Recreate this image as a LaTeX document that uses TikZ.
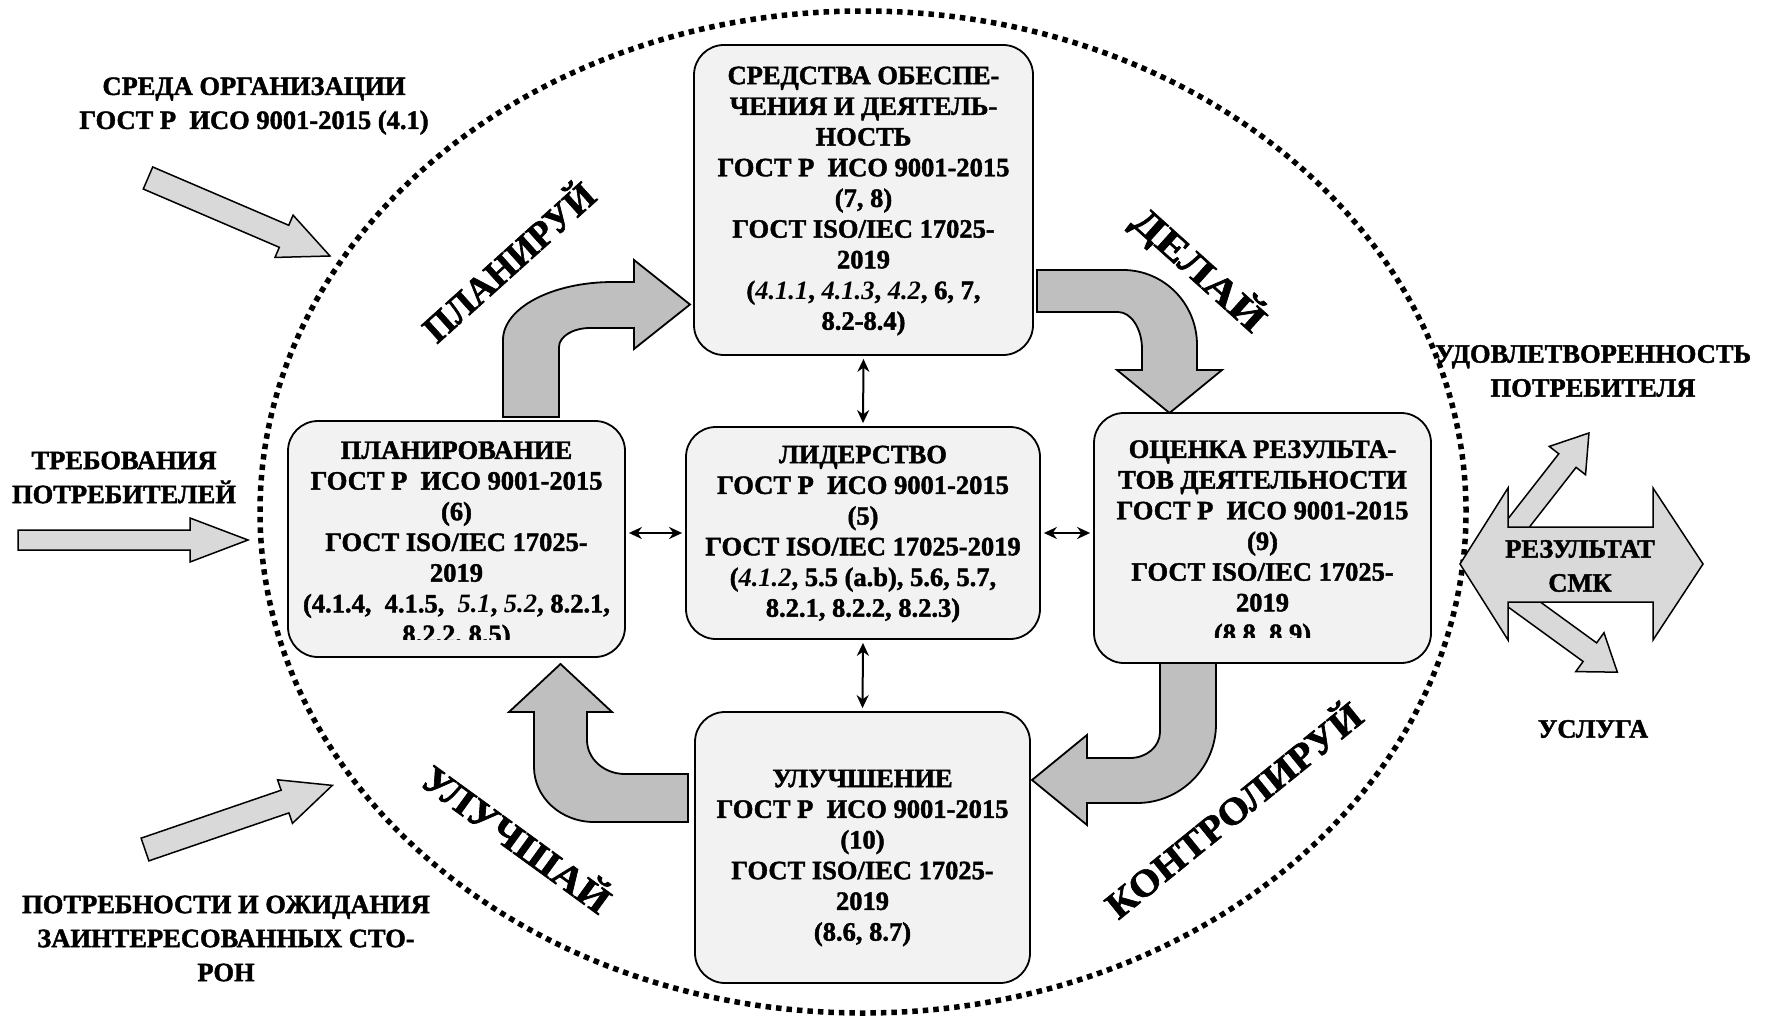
\documentclass[tikz,border=0pt]{standalone}
\usepackage{fontspec}
\setmainfont{Liberation Serif}[BoldFeatures={FakeBold=1.6}]
\usepackage{graphicx}
\usetikzlibrary{arrows.meta}
\definecolor{boxfill}{HTML}{F2F2F2}
\definecolor{bendfill}{HTML}{BFBFBF}
\definecolor{arrfill}{HTML}{D9D9D9}
\begin{document}
\begin{tikzpicture}[x=1pt,y=-1pt,
 box/.style={draw, line width=1.8pt, fill=boxfill, rounded corners=30pt, inner sep=0pt},
 boxtext/.style={font=\fontsize{26.5}{30.7}\selectfont\bfseries, align=center, inner sep=0pt},
 outtext/.style={font=\fontsize{26.5}{34}\selectfont\bfseries, align=center, inner sep=0pt},
 bentarrow/.style={draw, line width=1.8pt, fill=bendfill, line join=miter},
 flatarrow/.style={draw, line width=1.5pt, fill=arrfill, line join=miter},
 link/.style={line width=2pt, {Stealth[length=13pt,width=12pt]}-{Stealth[length=13pt,width=12pt]}, shorten >=3pt, shorten <=3pt},
 wordart/.style={font=\fontsize{38}{38}\selectfont\bfseries, inner sep=0pt, text=black},
]
\useasboundingbox (0,0) rectangle (1771,1016);
\fill[white] (0,0) rectangle (1771,1016);

% dotted ellipse
\draw[line width=5.5pt, dash pattern=on 5.5pt off 5pt] (863,512) ellipse [x radius=603pt, y radius=501pt];

% input arrows
\begin{scope}[shift={(148,178)}, rotate=-23.2]
\draw[flatarrow] (0,-12) -- (148,-12) -- (148,-23) -- (198,0) -- (148,23) -- (148,12) -- (0,12) -- cycle;
\end{scope}
\draw[flatarrow] (18,530) -- (190,530) -- (190,518) -- (248,540) -- (190,562) -- (190,550) -- (18,550) -- cycle;
\begin{scope}[shift={(145,849.5)}, rotate=18.9]
\draw[flatarrow] (0,-12) -- (148,-12) -- (148,-23) -- (198,0) -- (148,23) -- (148,12) -- (0,12) -- cycle;
\end{scope}

% result arrows (right)
\begin{scope}[shift={(1496.6,551.2)}, rotate=52]
\draw[flatarrow] (0,-11) -- (115,-11) -- (115,-23) -- (150,0) -- (115,23) -- (115,11) -- (0,11) -- cycle;
\end{scope}
\begin{scope}[shift={(1496,584)}, rotate=-36]
\draw[flatarrow] (0,-11.5) -- (116,-11.5) -- (116,-24) -- (150,0) -- (116,24) -- (116,11.5) -- (0,11.5) -- cycle;
\end{scope}
\draw[flatarrow] (1460,564) -- (1508,488) -- (1508,527) -- (1653,527) -- (1653,488) -- (1703,564)
  -- (1653,640) -- (1653,602) -- (1508,602) -- (1508,640) -- cycle;
\node[outtext] (res) at (1580,566) {РЕЗУЛЬТАТ\\СМК};

% bent arrows
\draw[bentarrow] (503,417) -- (503,340) .. controls (503,308) and (552,282) .. (613,282) -- (634,282) -- (634,260)
  -- (690,304.5) -- (634,349) -- (634,328) -- (590,328) .. controls (573,328) and (559,336.5) .. (559,347) -- (559,417) -- cycle;
\draw[bentarrow] (1037,270) -- (1123,270) .. controls (1164,270) and (1197,303.6) .. (1197,345) -- (1197,370) -- (1222,370)
  -- (1169.5,413) -- (1117,370) -- (1142,370) -- (1142,349) .. controls (1142,328.6) and (1131,312) .. (1118,312) -- (1037,312) -- cycle;
\draw[bentarrow] (1160,663) -- (1160,732) .. controls (1160,746.4) and (1146.6,758) .. (1130,758) -- (1087,758) -- (1087,735)
  -- (1032,780) -- (1087,825) -- (1087,803) -- (1137,803) .. controls (1180.6,803) and (1216,767.6) .. (1216,724) -- (1216,663) -- cycle;
\draw[bentarrow] (560.5,664) -- (612,712) -- (587,712) -- (587,740) .. controls (587,758.8) and (604,774) .. (625,774) -- (688,774)
  -- (688,822) -- (594,822) .. controls (560.9,822) and (534,797.4) .. (534,767) -- (534,712) -- (509,712) -- cycle;

% boxes
\node[box, minimum width=339pt, minimum height=310pt] (supp) at (863.5,200) {};
\node[box, minimum width=354pt, minimum height=212pt] (lead) at (863,533) {};
\node[box, minimum width=337pt, minimum height=236pt] (plan) at (456.5,539) {};
\node[box, minimum width=337pt, minimum height=250pt] (eval) at (1262.5,538) {};
\node[box, minimum width=335pt, minimum height=271pt] (impr) at (862.5,847.5) {};

\node[boxtext] (supptext) at (863.5,201) {СРЕДСТВА ОБЕСПЕ-\\ЧЕНИЯ И ДЕЯТЕЛЬ-\\НОСТЬ\\ГОСТ Р\ \ ИСО 9001-2015\\(7, 8)\\ГОСТ ISO/IEC 17025-\\2019\\(\textit{4.1.1}, \textit{4.1.3}, \textit{4.2}, 6, 7,\\8.2-8.4)};
\node[boxtext] (leadtext) at (863,534) {ЛИДЕРСТВО\\ГОСТ Р\ \ ИСО 9001-2015\\(5)\\ГОСТ ISO/IEC 17025-2019\\(\textit{4.1.2}, 5.5 (a.b), 5.6, 5.7,\\8.2.1, 8.2.2, 8.2.3)};
\begin{scope}
\clip (289,421) rectangle (625,639);
\node[boxtext] (plantext) at (456.5,545) {ПЛАНИРОВАНИЕ\\ГОСТ Р\ \ ИСО 9001-2015\\(6)\\ГОСТ ISO/IEC 17025-\\2019\\(4.1.4,\ \ 4.1.5,\ \ \textit{5.1}, \textit{5.2}, 8.2.1,\\8.2.2, 8.5)};
\end{scope}
\begin{scope}
\clip (1094,413) rectangle (1431,637);
\node[boxtext] (evaltext) at (1262.5,544) {ОЦЕНКА РЕЗУЛЬТА-\\ТОВ ДЕЯТЕЛЬНОСТИ\\ГОСТ Р\ \ ИСО 9001-2015\\(9)\\ГОСТ ISO/IEC 17025-\\2019\\(8.8, 8.9)};
\end{scope}
\node[boxtext] (imprtext) at (862.5,858) {УЛУЧШЕНИЕ\\ГОСТ Р\ \ ИСО 9001-2015\\(10)\\ГОСТ ISO/IEC 17025-\\2019\\(8.6, 8.7)};

% links
\draw[link] (supp.south) -- (lead.north);
\draw[link] (lead.south) -- (impr.north);
\draw[link] (plan.east |- lead.west) -- (lead.west);
\draw[link] (lead.east) -- (eval.west |- lead.east);

% outside texts
\node[outtext] (env) at (254,106) {СРЕДА ОРГАНИЗАЦИИ\\ГОСТ Р\ \ ИСО 9001-2015 (4.1)};
\node[outtext] (req) at (124,477.5) {ТРЕБОВАНИЯ\\ПОТРЕБИТЕЛЕЙ};
\node[outtext] (need) at (226,938.5) {ПОТРЕБНОСТИ И ОЖИДАНИЯ\\ЗАИНТЕРЕСОВАННЫХ СТО-\\РОН};
\node[outtext] (sat) at (1593,371) {УДОВЛЕТВОРЕННОСТЬ\\ПОТРЕБИТЕЛЯ};
\node[outtext] (serv) at (1593,729) {УСЛУГА};

% PDCA words
\node[wordart, rotate=42] (wplan) at (507,260) {\resizebox{217pt}{\height}{ПЛАНИРУЙ}};
\node[wordart, rotate=-42] (wdo) at (1199,270) {\resizebox{165pt}{\height}{ДЕЛАЙ}};
\node[wordart, rotate=39] (wcheck) at (1232,808) {\resizebox{318pt}{\height}{КОНТРОЛИРУЙ}};
\node[wordart, rotate=-36] (wact) at (518,837) {\resizebox{223pt}{\height}{УЛУЧШАЙ}};
\end{tikzpicture}
\end{document}
